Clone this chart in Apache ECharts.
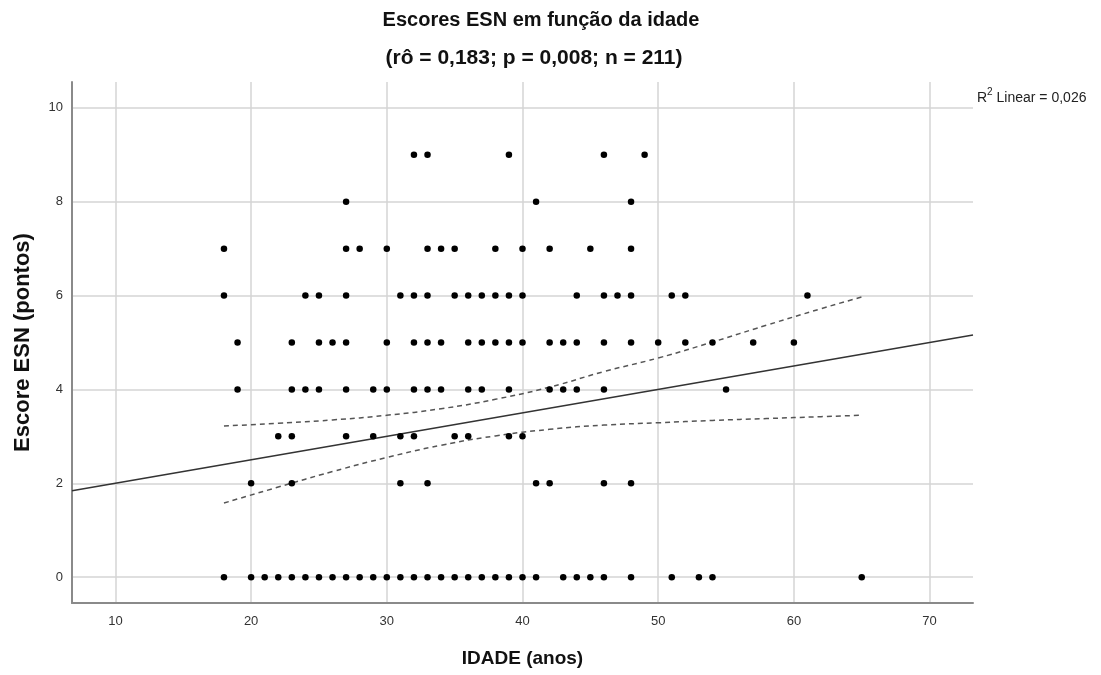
<!DOCTYPE html>
<html>
<head>
<meta charset="utf-8">
<script src="https://cdn.jsdelivr.net/npm/echarts@6/dist/echarts.min.js"></script>
<style>
  html, body { margin: 0; padding: 0; background: #fff; }
  #chart-panel { width: 1101px; height: 675px; }
</style>
</head>
<body>
<div id="chart-panel"></div>
<script>
// ages (IDADE) observed at each ESN score
var scoreLevels = [0, 2, 3, 4, 5, 6, 7, 8, 9];
var agesByScore = {
    0: [18, 20, 21, 22, 23, 24, 25, 26, 27, 28, 29, 30, 31, 32, 33, 34, 35, 36, 37, 38, 39, 40, 41, 43, 44, 45, 46, 48, 51, 53, 54, 65],
    2: [20, 23, 31, 33, 41, 42, 46, 48],
    3: [22, 23, 27, 29, 31, 32, 35, 36, 39, 40],
    4: [19, 23, 24, 25, 27, 29, 30, 32, 33, 34, 36, 37, 39, 42, 43, 44, 46, 55],
    5: [19, 23, 25, 26, 27, 30, 32, 33, 34, 36, 37, 38, 39, 40, 42, 43, 44, 46, 48, 50, 52, 54, 57, 60],
    6: [18, 24, 25, 27, 31, 32, 33, 35, 36, 37, 38, 39, 40, 44, 46, 47, 48, 51, 52, 61],
    7: [18, 27, 28, 30, 33, 34, 35, 38, 40, 42, 45, 48],
    8: [27, 41, 48],
    9: [32, 33, 39, 46, 49]
};

// fit line and 95% band
var fitX = [6.8, 73.2];
var fitY = [1.84, 5.16];
var bandX = [18, 22, 26, 30, 34, 38, 42, 46, 50, 54, 58, 62, 65];
var bandUpper = [3.22, 3.28, 3.35, 3.45, 3.59, 3.79, 4.05, 4.38, 4.67, 5.01, 5.37, 5.72, 5.97];
var bandLower = [1.58, 1.92, 2.25, 2.55, 2.81, 3.01, 3.15, 3.24, 3.29, 3.34, 3.38, 3.42, 3.45];

var xTicks = [10, 20, 30, 40, 50, 60, 70];
var yTicks = [0, 2, 4, 6, 8, 10];

var points = [];
scoreLevels.forEach(function (s) {
    agesByScore[s].forEach(function (a) { points.push([a, s]); });
});
function zip(xs, ys) {
    return xs.map(function (x, i) { return [x, ys[i]]; });
}

var font = '"Liberation Sans", Arial, sans-serif';
var gridLine = { show: true, lineStyle: { color: '#d4d4d4', width: 1.5 } };
var axisLine = { show: true, onZero: false, lineStyle: { color: '#8a8a8a', width: 2 } };

var chart = echarts.init(document.getElementById('chart-panel'));
chart.setOption({
    animation: false,
    backgroundColor: '#fff',
    textStyle: { fontFamily: font },
    grid: { left: 72, right: 128, top: 82, bottom: 72 },
    graphic: [
        { type: 'text', x: 541, y: 10, style: { text: 'Escores ESN em função da idade', font: 'bold 20px ' + font, fill: '#111', align: 'center' } },
        { type: 'text', x: 534, y: 48, style: { text: '(rô = 0,183; p = 0,008; n = 211)', font: 'bold 21px ' + font, fill: '#111', align: 'center' } },
        { type: 'text', left: 977, top: 87, style: {
            text: '{r|R}{s|2}{r| Linear = 0,026}',
            rich: {
                r: { fontSize: 14, fontFamily: font, fill: '#222', verticalAlign: 'bottom', lineHeight: 18 },
                s: { fontSize: 10, fontFamily: font, fill: '#222', verticalAlign: 'top', lineHeight: 18 }
            }
        } }
    ],
    xAxis: {
        type: 'value', min: 6.8, max: 73.2,
        name: 'IDADE (anos)', nameLocation: 'middle', nameGap: 46,
        nameTextStyle: { fontSize: 19, fontWeight: 'bold', color: '#111', fontFamily: font },
        axisLine: axisLine,
        axisTick: { show: false, customValues: xTicks },
        axisLabel: { customValues: xTicks, fontSize: 13, color: '#333', margin: 12 },
        splitLine: gridLine
    },
    yAxis: {
        type: 'value', min: -0.55, max: 10.55,
        name: 'Escore ESN (pontos)', nameLocation: 'middle', nameGap: 38,
        nameTextStyle: { fontSize: 22, fontWeight: 'bold', color: '#111', fontFamily: font },
        axisLine: axisLine,
        axisTick: { show: false, customValues: yTicks },
        axisLabel: { customValues: yTicks, fontSize: 13, color: '#333', margin: 9 },
        splitLine: gridLine
    },
    series: [
        {
            type: 'line', data: zip(fitX, fitY), symbol: 'none',
            lineStyle: { color: '#333', width: 1.5 }, z: 3
        },
        {
            type: 'line', data: zip(bandX, bandUpper), symbol: 'none', smooth: true,
            lineStyle: { color: '#555', width: 1.5, type: [5, 4] }, z: 3
        },
        {
            type: 'line', data: zip(bandX, bandLower), symbol: 'none', smooth: true,
            lineStyle: { color: '#555', width: 1.5, type: [5, 4] }, z: 3
        },
        {
            type: 'scatter', data: points, symbolSize: 6.5,
            itemStyle: { color: '#000', opacity: 1 }, z: 4
        }
    ]
});
</script>
</body>
</html>
